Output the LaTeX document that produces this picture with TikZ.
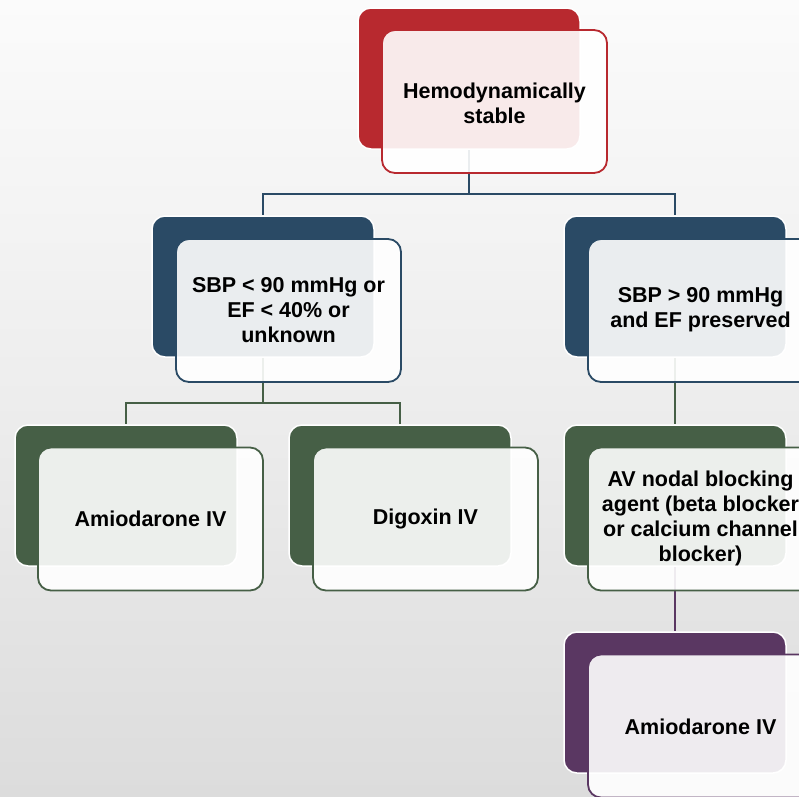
\documentclass[tikz,border=0pt]{standalone}
\usepackage{fontspec}
\setmainfont{Liberation Sans}
\usetikzlibrary{positioning}
\definecolor{cred}{HTML}{B8292F}
\definecolor{cblue}{HTML}{2A4A65}
\definecolor{cgreen}{HTML}{465F46}
\definecolor{cpurple}{HTML}{5A3762}
\definecolor{bgtop}{HTML}{FBFBFB}
\definecolor{bgbot}{HTML}{DCDCDC}
\pgfdeclarelayer{bglayer}
\pgfdeclarelayer{linelayer}
\pgfsetlayers{bglayer,linelayer,main}
\tikzset{
  backbox/.style={rectangle, rounded corners=13pt, draw=white, line width=1.5pt,
    fill=#1, minimum width=222pt, minimum height=141pt, inner sep=0pt},
  frontbox/.style={rectangle, rounded corners=13pt, draw=#1, line width=1.8pt,
    fill=white, fill opacity=0.9, minimum width=225pt, minimum height=143pt, inner sep=0pt},
  label/.style={text=black, align=center, font=\bfseries\fontsize{21.5}{25}\selectfont, inner sep=0pt},
  conn/.style={draw=#1, line width=1.8pt}
}
\begin{document}
\begin{tikzpicture}[x=1pt,y=-1pt]
\begin{pgfonlayer}{bglayer}
\shade[top color=bgtop, bottom color=bgbot, middle color=bgbot!45!bgtop] (0,0) rectangle (799,796);
\end{pgfonlayer}
\useasboundingbox (0,0) rectangle (799,796);

% back boxes
\node[backbox=cred] (b0) at (469,78.5) {};
\node[backbox=cblue] (b1) at (263,286.5) {};
\node[backbox=cblue] (b2) at (675,286.5) {};
\node[backbox=cgreen] (b3) at (126,495.5) {};
\node[backbox=cgreen] (b4) at (400,495.5) {};
\node[backbox=cgreen] (b5) at (675,495.5) {};
\node[backbox=cpurple] (b6) at (675,702.5) {};

% front boxes
\node[frontbox=cred] (f0) at (494.5,101.5) {};
\node[frontbox=cblue] (f1) at (288.5,310.5) {};
\node[frontbox=cblue] (f2) at (700.5,310.5) {};
\node[frontbox=cgreen] (f3) at (150.5,519) {};
\node[frontbox=cgreen] (f4) at (425.5,519) {};
\node[frontbox=cgreen] (f5) at (700.5,519) {};
\node[frontbox=cpurple] (f6) at (700.5,726) {};

% labels
\node[label] (t0) at (494.5,103) {Hemodynamically\\stable};
\node[label] (t1) at (288.5,310) {SBP < 90 mmHg or\\EF < 40\% or\\unknown};
\node[label] (t2) at (700.5,310) {SBP > 90 mmHg\\and EF preserved};
\node[label] (t3) at (150.5,519) {Amiodarone IV};
\node[label] (t4) at (425.5,519) {Digoxin IV};
\node[label] (t5) at (700.5,518) {AV nodal blocking\\agent (beta blocker\\or calcium channel\\blocker)};
\node[label] (t6) at (700.5,727) {Amiodarone IV};

% connectors
\begin{pgfonlayer}{linelayer}
\coordinate (j0) at (469,194);
\coordinate (j1) at (263,403);
\draw[conn=cblue] (b0.south) -- (j0) -| (b1.north);
\draw[conn=cblue] (j0) -| (b2.north);
\draw[conn=cgreen] (b1.south) -- (j1) -| (b3.north);
\draw[conn=cgreen] (j1) -| (b4.north);
\draw[conn=cgreen] (b2.south) -- (b5.north);
\draw[conn=cpurple] (b5.south) -- (b6.north);
\end{pgfonlayer}
\end{tikzpicture}
\end{document}
